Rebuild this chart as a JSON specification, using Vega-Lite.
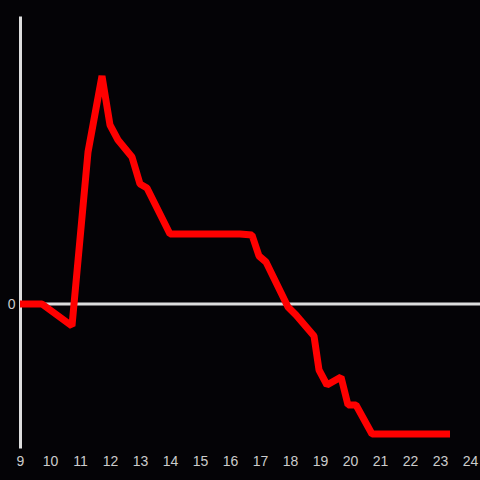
{
  "$schema": "https://vega.github.io/schema/vega-lite/v6.json",
  "width": 460,
  "height": 432,
  "autosize": {"type": "none"},
  "padding": {"left": 20, "top": 16, "right": 0, "bottom": 32},
  "background": "#040306",
  "config": {"view": {"stroke": null}},
  "data": {"values": [
    {"x": 9, "y": 0},
    {"x": 9.733, "y": 0},
    {"x": 10.733, "y": -2.2},
    {"x": 11.267, "y": 15.2},
    {"x": 11.733, "y": 22.8},
    {"x": 12.0, "y": 17.9},
    {"x": 12.267, "y": 16.4},
    {"x": 12.733, "y": 14.7},
    {"x": 13.0, "y": 12.0},
    {"x": 13.233, "y": 11.6},
    {"x": 14.0, "y": 7.0},
    {"x": 16.333, "y": 7.0},
    {"x": 16.733, "y": 6.9},
    {"x": 16.967, "y": 4.8},
    {"x": 17.2, "y": 4.2},
    {"x": 17.933, "y": -0.3},
    {"x": 18.2, "y": -1.1},
    {"x": 18.8, "y": -3.2},
    {"x": 18.967, "y": -6.6},
    {"x": 19.233, "y": -8.1},
    {"x": 19.7, "y": -7.3},
    {"x": 19.933, "y": -10.1},
    {"x": 20.2, "y": -10.1},
    {"x": 20.733, "y": -13.0},
    {"x": 23.333, "y": -13.0}
  ]},
  "layer": [
    {
      "data": {"values": [{"y": 0}]},
      "mark": {"type": "rule", "color": "#dddddd", "strokeWidth": 3},
      "encoding": {"y": {"field": "y", "type": "quantitative"}}
    },
    {
      "mark": {"type": "line", "color": "#ff0000", "strokeWidth": 7, "strokeJoin": "bevel", "strokeCap": "butt", "clip": true},
      "encoding": {
        "x": {
          "field": "x", "type": "quantitative",
          "scale": {"domain": [9, 24.333], "nice": false, "zero": false},
          "axis": {
            "title": null, "domain": false, "ticks": false, "grid": false,
            "values": [9,10,11,12,13,14,15,16,17,18,19,20,21,22,23,24],
            "labelColor": "#cccccc", "labelFontSize": 14, "labelFont": "Liberation Sans",
            "labelPadding": 6, "labelFlush": false, "labelOverlap": false
          }
        },
        "y": {
          "field": "y", "type": "quantitative",
          "scale": {"domain": [-14.4, 28.8], "nice": false, "zero": false},
          "axis": {
            "title": null, "domain": true, "domainColor": "#dddddd", "domainWidth": 3,
            "ticks": false, "grid": false, "values": [0],
            "labelColor": "#cccccc", "labelFontSize": 14, "labelFont": "Liberation Sans",
            "labelPadding": 5
          }
        }
      }
    }
  ]
}
